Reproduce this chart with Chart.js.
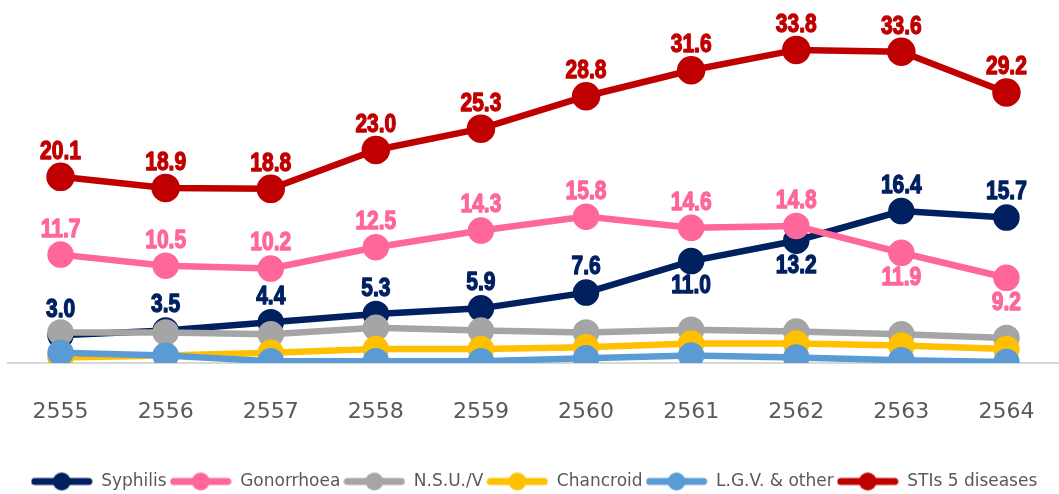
<!DOCTYPE html>
<html>
<head>
<meta charset="utf-8">
<script src="https://cdn.jsdelivr.net/npm/chart.js@4/dist/chart.umd.min.js"></script>
<style>
  html, body { margin: 0; padding: 0; background: #fff; }
  #box { width: 1059px; height: 494px; }
</style>
</head>
<body>
<div id="box"><canvas id="lineChart"></canvas></div>
<script>
// data
let years = ['2555','2556','2557','2558','2559','2560','2561','2562','2563','2564']
let syphilis   = [3.0, 3.5, 4.4, 5.3, 5.9, 7.6, 11.0, 13.2, 16.4, 15.7]
let gonorrhoea = [11.7, 10.5, 10.2, 12.5, 14.3, 15.8, 14.6, 14.8, 11.9, 9.2]
let nsuv       = [3.3, 3.3, 3.1, 3.8, 3.5, 3.3, 3.6, 3.4, 3.1, 2.7]
let chancroid  = [0.6, 0.8, 1.1, 1.5, 1.5, 1.7, 2.1, 2.1, 1.9, 1.5]
let lgv        = [1.1, 0.8, 0.2, 0.2, 0.2, 0.5, 0.8, 0.6, 0.3, 0.1]
let stis       = [20.1, 18.9, 18.8, 23.0, 25.3, 28.8, 31.6, 33.8, 33.6, 29.2]

let names  = ['Syphilis','Gonorrhoea','N.S.U./V','Chancroid','L.G.V. & other','STIs 5 diseases']
let colors = ['#002060','#FF6699','#A5A5A5','#FFC000','#5B9BD5','#C00000']
let series = [syphilis, gonorrhoea, nsuv, chancroid, lgv, stis]

// which series get value labels, and which points put the label under the point
let labelled = {0: [6, 7], 1: [8, 9], 5: []}

function legendMark(color){
  let c = document.createElement('canvas')
  c.width = 62; c.height = 22
  let g = c.getContext('2d')
  g.strokeStyle = color; g.lineWidth = 7; g.lineCap = 'round'
  g.beginPath(); g.moveTo(4, 11); g.lineTo(58, 11); g.stroke()
  g.fillStyle = color
  g.beginPath(); g.arc(31, 11, 9, 0, Math.PI * 2); g.fill()
  return c
}
let marks = colors.map(legendMark)

let datasets = series.map((d, i) => ({
  label: names[i],
  data: d,
  borderColor: colors[i],
  backgroundColor: colors[i],
  pointBackgroundColor: colors[i],
  pointBorderColor: colors[i],
  borderWidth: 6.5,
  pointRadius: i == 5 ? 11 : 10,
  pointHoverRadius: 10,
  tension: 0,
  order: series.length - i
}))

let valueLabels = {
  id: 'valueLabels',
  afterDatasetsDraw(chart){
    let ctx = chart.ctx
    ctx.save()
    ctx.font = 'bold 25px "Liberation Sans", Arial, sans-serif'
    ctx.textAlign = 'center'
    ctx.textBaseline = 'middle'
    ctx.lineWidth = 1.3
    ctx.lineJoin = 'round'
    for (let k in labelled) {
      let i = +k
      let meta = chart.getDatasetMeta(i)
      ctx.fillStyle = colors[i]
      ctx.strokeStyle = colors[i]
      meta.data.forEach((pt, j) => {
        let below = labelled[k].includes(j)
        let txt = series[i][j].toFixed(1)
        ctx.save()
        ctx.translate(pt.x, pt.y + (below ? 25 : -25))
        ctx.scale(0.84, 1)
        ctx.fillText(txt, 0, 0)
        ctx.strokeText(txt, 0, 0)
        ctx.restore()
      })
    }
    ctx.restore()
  }
}

let ctx = document.getElementById('lineChart').getContext('2d')
let myChart = new Chart(ctx, {
  type: 'line',
  data: { labels: years, datasets: datasets },
  options: {
    responsive: true,
    maintainAspectRatio: false,
    animation: false,
    layout: { autoPadding: false, padding: { top: 11, left: 8, right: -1, bottom: -6 } },
    plugins: {
      tooltip: { enabled: false },
      legend: {
        position: 'bottom',
        labels: {
          usePointStyle: true,
          pointStyleWidth: 62,
          padding: 3,
          color: '#595959',
          font: { family: '"DejaVu Sans", sans-serif', size: 17 },
          generateLabels: (chart) => names.map((n, i) => ({
            text: n,
            datasetIndex: i,
            pointStyle: marks[i],
            fillStyle: colors[i],
            strokeStyle: colors[i],
            fontColor: '#595959',
            lineWidth: 0,
            hidden: false
          }))
        }
      }
    },
    scales: {
      x: {
        offset: true,
        grid: { display: true, drawOnChartArea: false, drawTicks: true, tickLength: 36, color: 'rgba(0,0,0,0)' },
        border: { display: true, color: '#D9D9D9', width: 2 },
        ticks: {
          color: '#595959',
          padding: 0,
          font: { family: '"DejaVu Sans", sans-serif', size: 22 }
        },
        afterFit: (s) => { s.height = 107 }
      },
      y: {
        display: false,
        min: 0,
        max: 38
      }
    }
  },
  plugins: [valueLabels]
})
</script>
</body>
</html>
